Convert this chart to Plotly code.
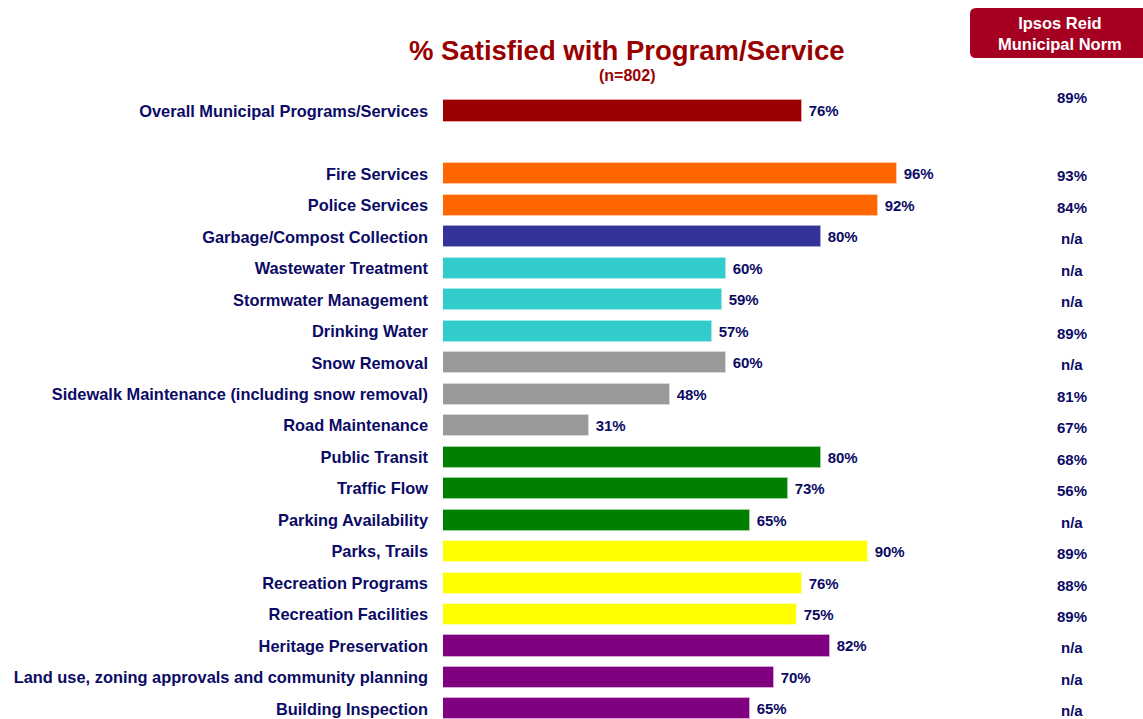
import plotly.graph_objects as go

categories = [
    "Overall Municipal Programs/Services",
    "Fire Services",
    "Police Services",
    "Garbage/Compost Collection",
    "Wastewater Treatment",
    "Stormwater Management",
    "Drinking Water",
    "Snow Removal",
    "Sidewalk Maintenance (including snow removal)",
    "Road Maintenance",
    "Public Transit",
    "Traffic Flow",
    "Parking Availability",
    "Parks, Trails",
    "Recreation Programs",
    "Recreation Facilities",
    "Heritage Preservation",
    "Land use, zoning approvals and community planning",
    "Building Inspection",
]
satisfied = [76, 96, 92, 80, 60, 59, 57, 60, 48, 31, 80, 73, 65, 90, 76, 75, 82, 70, 65]
norm_labels = ["89%", "93%", "84%", "n/a", "n/a", "n/a", "89%", "n/a", "81%", "67%",
               "68%", "56%", "n/a", "89%", "88%", "89%", "n/a", "n/a", "n/a"]
bar_colors = ["#990000", "#FF6600", "#FF6600", "#333399", "#33CCCC", "#33CCCC", "#33CCCC",
              "#999999", "#999999", "#999999", "#008000", "#008000", "#008000",
              "#FFFF00", "#FFFF00", "#FFFF00", "#800080", "#800080", "#800080"]
edge_colors = ["#E8A0A0", "#FFC8A0", "#FFC8A0", "#A8A8D8", "#A8E8E8", "#A8E8E8", "#A8E8E8",
               "#D8D8D8", "#D8D8D8", "#D8D8D8", "#A0D0A0", "#A0D0A0", "#A0D0A0",
               "#FFFFB0", "#FFFFB0", "#FFFFB0", "#D8A8D8", "#D8A8D8", "#D8A8D8"]
positions = [0] + list(range(2, 20))

NAVY = "#0B0B66"
FONT = "Liberation Sans"

# body margin is removed by post_script, so figure fills the window
OFF = 0
W, H = 1143 - OFF, 719 - OFF
L = 443 - OFF
PW = W - L


def px(xr):  # reference x pixel -> paper x
    return (xr - OFF - L) / PW


def py(yr):  # reference y pixel -> paper y
    return 1 - (yr - OFF) / H


fig = go.Figure()
fig.add_trace(go.Bar(
    x=satisfied, y=positions, orientation="h",
    marker=dict(color=bar_colors, line=dict(color=edge_colors, width=1)),
    width=0.67,
    texttemplate="<b> %{x}%</b>", textposition="outside",
    textfont=dict(family=FONT, size=15, color=NAVY),
    cliponaxis=False, hoverinfo="skip",
))

annotations = []
for p, lab in zip(positions, norm_labels):
    annotations.append(dict(
        x=px(1072), y=p, xref="paper", yref="y", text=f"<b>{lab}</b>", showarrow=False,
        font=dict(family=FONT, size=15, color=NAVY), xanchor="center",
        yshift=(14 if p == 0 else -2),
    ))

annotations += [
    dict(x=px(627), y=py(50), xref="paper", yref="paper",
         text="<b>% Satisfied with Program/Service</b>", showarrow=False,
         font=dict(family=FONT, size=27.5, color="#990000"), xanchor="center", yanchor="middle"),
    dict(x=px(627), y=py(76), xref="paper", yref="paper",
         text="<b>(n=802)</b>", showarrow=False,
         font=dict(family=FONT, size=16, color="#990000"), xanchor="center", yanchor="middle"),
    dict(x=px(1060), y=py(33), xref="paper", yref="paper",
         text="<b>Ipsos Reid<br>Municipal Norm</b>", showarrow=False,
         font=dict(family=FONT, size=16.5, color="white"), xanchor="center", yanchor="middle"),
]

# rounded box for norm header (paper coords)
x0, x1 = px(970), 1.03
ytop, ybot = py(8), py(58)
rx, ry = 6 / PW, 6 / H
path = (f"M {x0+rx},{ytop} L {x1},{ytop} L {x1},{ybot} L {x0+rx},{ybot} "
        f"Q {x0},{ybot} {x0},{ybot+ry} L {x0},{ytop-ry} Q {x0},{ytop} {x0+rx},{ytop} Z")

k = 31.47  # px per row
y0 = -(111 - OFF) / k
y1 = y0 + H / k

fig.update_layout(
    width=W, height=H,
    margin=dict(l=L, r=0, t=0, b=0, pad=0),
    paper_bgcolor="white", plot_bgcolor="white",
    showlegend=False,
    bargap=0,
    xaxis=dict(range=[0, PW / 4.724], visible=False, fixedrange=True),
    yaxis=dict(range=[y1, y0], tickvals=positions,
               ticktext=[f"<b>{c}</b>" for c in categories],
               tickfont=dict(family=FONT, size=16.4, color=NAVY),
               showgrid=False, zeroline=False, showline=False, ticks="",
               ticklabelstandoff=14, fixedrange=True),
    annotations=annotations,
    shapes=[dict(type="path", path=path, xref="paper", yref="paper",
                 fillcolor="#A50021", line=dict(width=0), layer="above")],
)

fig.write_html(
    "out.html",
    config={"displayModeBar": False},
    post_script="document.body.style.margin='0';document.body.style.overflow='hidden';",
)
